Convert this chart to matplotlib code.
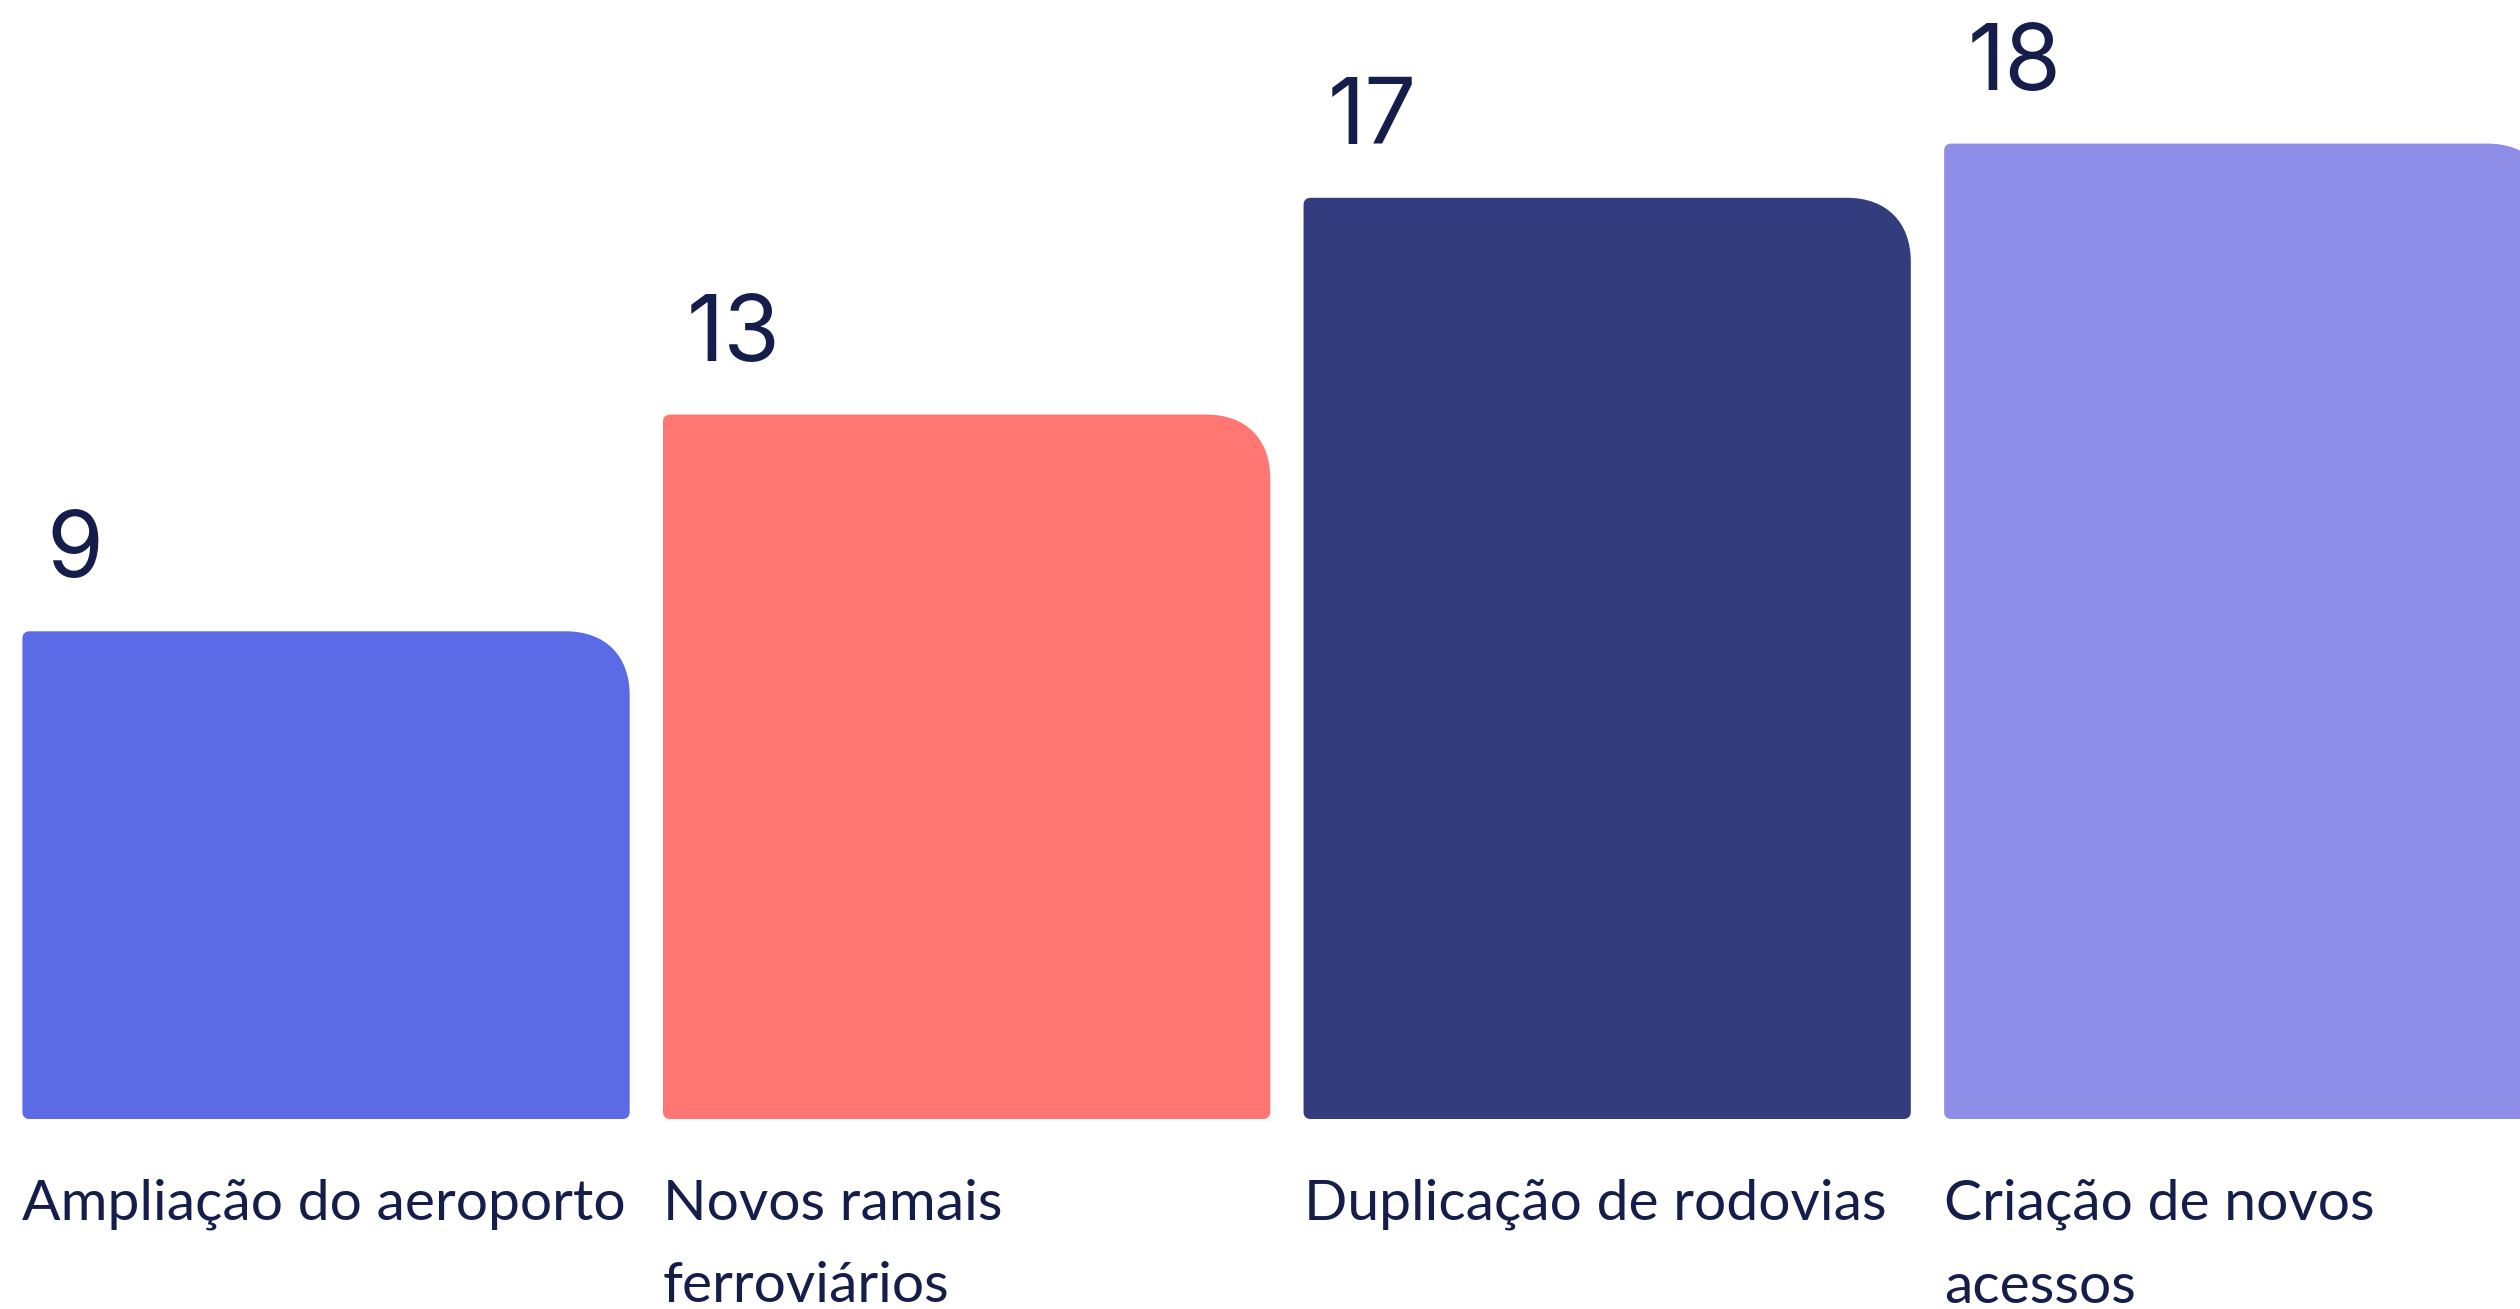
import matplotlib
matplotlib.use("Agg")
import matplotlib.pyplot as plt
from matplotlib.path import Path
from matplotlib.patches import PathPatch

# data
categories = ["Ampliação do aeroporto", "Novos ramais\nferroviários",
              "Duplicação de rodovias", "Criação de novos\nacessos"]
values = [9, 13, 17, 18]
colors = ["#5A6BE5", "#FF7672", "#333C7C", "#8E8EE8"]
text_color = "#151E4A"

W, H, DPI = 2520, 1309, 100
fig = plt.figure(figsize=(W / DPI, H / DPI), dpi=DPI)
base_px = 190          # baseline height from bottom of figure, px
ax = fig.add_axes([0, base_px / H, 1, 1 - base_px / H])
ax.set_xlim(-0.509, 3.425)
ax.set_ylim(0, 20.65)
ax.axis("off")

bar_w = 0.948
bars = ax.bar(range(len(values)), values, width=bar_w, color=colors)

# pixel -> data conversion for corner radii
px_x = (3.425 + 0.509) / W
px_y = 20.65 / (H - base_px)
K = 0.62


def rounded_bar(x0, x1, y0, y1, r_big, r_small):
    bx, by = r_big * px_x, r_big * px_y
    sx, sy = r_small * px_x, r_small * px_y
    verts = [
        (x0 + sx, y0),
        (x1 - sx, y0),
        (x1 - sx + K * sx, y0), (x1, y0 + sy - K * sy), (x1, y0 + sy),
        (x1, y1 - by),
        (x1, y1 - by + K * by), (x1 - bx + K * bx, y1), (x1 - bx, y1),
        (x0 + sx, y1),
        (x0 + sx - K * sx, y1), (x0, y1 - sy + K * sy), (x0, y1 - sy),
        (x0, y0 + sy),
        (x0, y0 + sy - K * sy), (x0 + sx - K * sx, y0), (x0 + sx, y0),
        (x0 + sx, y0),
    ]
    codes = [Path.MOVETO, Path.LINETO,
             Path.CURVE4, Path.CURVE4, Path.CURVE4,
             Path.LINETO,
             Path.CURVE4, Path.CURVE4, Path.CURVE4,
             Path.LINETO,
             Path.CURVE4, Path.CURVE4, Path.CURVE4,
             Path.LINETO,
             Path.CURVE4, Path.CURVE4, Path.CURVE4,
             Path.CLOSEPOLY]
    return Path(verts, codes)


for rect, c, v, cat in zip(bars, colors, values, categories):
    x0 = rect.get_x()
    x1 = x0 + rect.get_width()
    y1 = rect.get_height()
    rect.set_visible(False)
    ax.add_patch(PathPatch(rounded_bar(x0, x1, 0, y1, 64, 7),
                           facecolor=c, edgecolor="none"))
    ax.annotate(str(v), (x0, y1), xytext=(24, 54), textcoords="offset pixels",
                ha="left", va="baseline", fontsize=66, family="Inter",
                color=text_color, annotation_clip=False)
    ax.annotate(cat, (x0, 0), xytext=(0, -60), textcoords="offset pixels",
                ha="left", va="top", fontsize=41, family="Lato",
                color=text_color, linespacing=1.76, annotation_clip=False)

fig.savefig("out.png", dpi=DPI)
